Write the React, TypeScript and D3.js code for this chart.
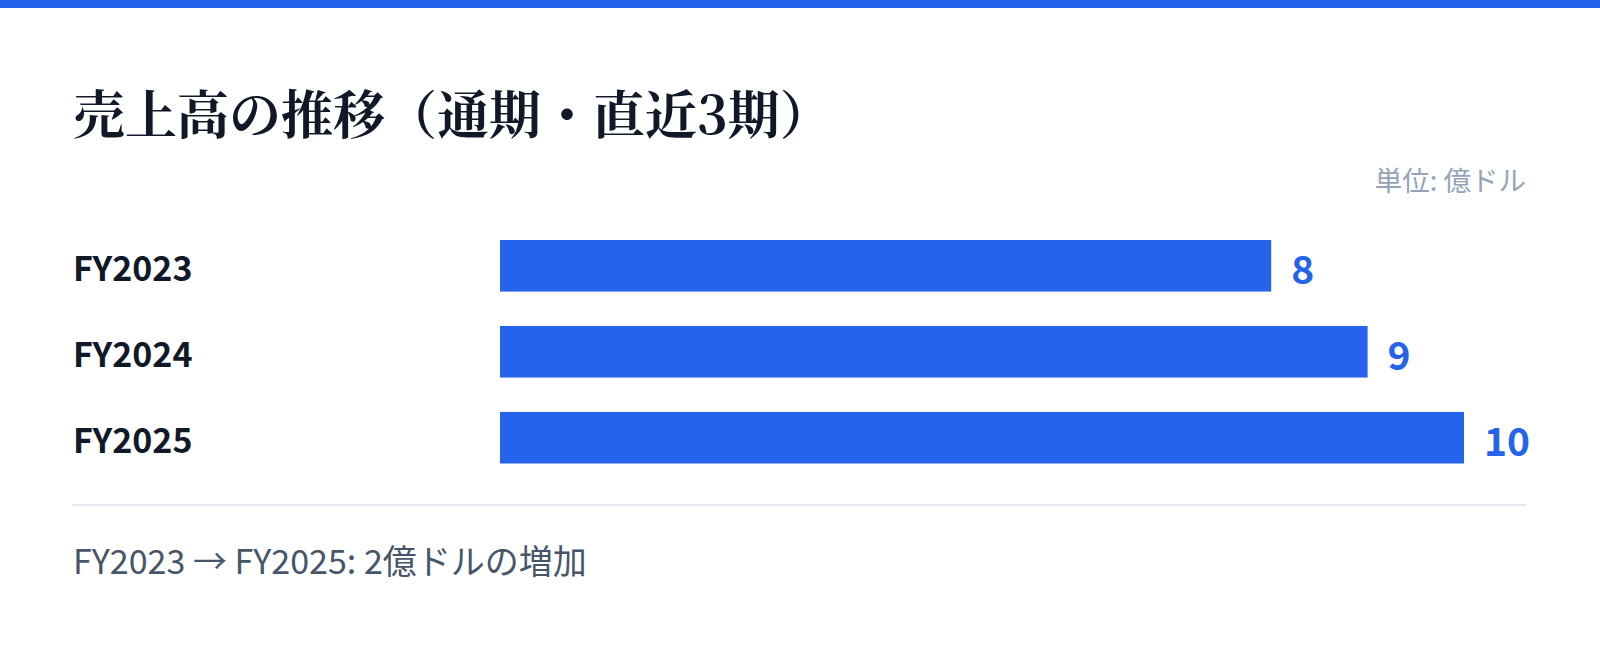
import { useEffect, useRef } from "react";
import * as d3 from "d3";

const categories = ["FY2023", "FY2024", "FY2025"];
const values = [8, 9, 10];
const title = "売上高の推移（通期・直近3期）";
const unitLabel = "単位: 億ドル";
const footnote = "FY2023 → FY2025: 2億ドルの増加";

const WIDTH = 1600;
const HEIGHT = 647;
const FONT = "'Noto Sans CJK JP', 'Noto Sans', sans-serif";
const BLUE = "#2563eb";

export default function App() {
  const svgRef = useRef<SVGSVGElement>(null);

  useEffect(() => {
    if (!svgRef.current) return;
    const svg = d3.select(svgRef.current);
    svg.selectAll("*").remove();

    const left = 73;
    const right = 1526;

    // background + top accent
    svg.append("rect").attr("width", WIDTH).attr("height", HEIGHT).attr("fill", "#ffffff");
    svg.append("rect").attr("width", WIDTH).attr("height", 8).attr("fill", BLUE);

    // title
    svg
      .append("text")
      .attr("x", left)
      .attr("y", 134)
      .attr("font-family", "'Noto Serif CJK JP', " + FONT)
      .attr("font-weight", 700)
      .attr("font-size", 52)
      .attr("fill", "#111827")
      .text(title);

    // unit
    svg
      .append("text")
      .attr("x", right)
      .attr("y", 191)
      .attr("text-anchor", "end")
      .attr("font-family", FONT)
      .attr("font-size", 27.5)
      .attr("fill", "#94a3b8")
      .text(unitLabel);

    const x = d3
      .scaleLinear()
      .domain([0, d3.max(values) || 0])
      .range([500, 1464]);

    const y = d3
      .scaleBand()
      .domain(categories)
      .range([240, 463.5])
      .paddingInner(0.4)
      .paddingOuter(0);

    const rows = categories.map((c, i) => ({ label: c, value: values[i] }));

    // bars
    svg
      .selectAll("rect.bar")
      .data(rows)
      .join("rect")
      .attr("class", "bar")
      .attr("x", x(0))
      .attr("y", (d) => y(d.label) || 0)
      .attr("width", (d) => x(d.value) - x(0))
      .attr("height", y.bandwidth())
      .attr("fill", BLUE);

    // category labels
    svg
      .selectAll("text.cat")
      .data(rows)
      .join("text")
      .attr("class", "cat")
      .attr("x", left)
      .attr("y", (d) => (y(d.label) || 0) + y.bandwidth() / 2 + 15.5)
      .attr("font-family", FONT)
      .attr("font-weight", 700)
      .attr("font-size", 34)
      .attr("fill", "#111827")
      .text((d) => d.label);

    // value labels
    svg
      .selectAll("text.val")
      .data(rows)
      .join("text")
      .attr("class", "val")
      .attr("x", (d) => x(d.value) + 20)
      .attr("y", (d) => (y(d.label) || 0) + y.bandwidth() / 2 + 18)
      .attr("font-family", FONT)
      .attr("font-weight", 700)
      .attr("font-size", 39)
      .attr("fill", BLUE)
      .text((d) => d.value);

    // divider
    svg
      .append("line")
      .attr("x1", left - 1)
      .attr("x2", right)
      .attr("y1", 505)
      .attr("y2", 505)
      .attr("stroke", "#e2e8f0")
      .attr("stroke-width", 2);

    // footnote
    svg
      .append("text")
      .attr("x", left)
      .attr("y", 574)
      .attr("font-family", FONT)
      .attr("font-size", 34)
      .attr("fill", "#475569")
      .text(footnote);
  }, []);

  return (
    <svg
      ref={svgRef}
      width={WIDTH}
      height={HEIGHT}
      style={{ position: "absolute", left: 0, top: 0, display: "block" }}
    />
  );
}
